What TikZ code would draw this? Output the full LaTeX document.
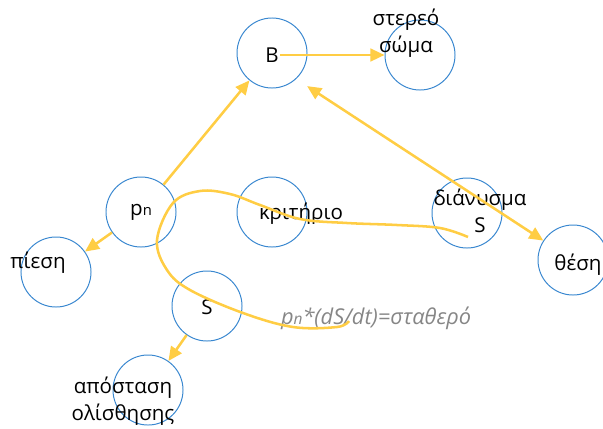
\documentclass[tikz,border=0pt]{standalone}
\usepackage{fontspec}
\setmainfont{Open Sans}
\usepackage{tikz}
\usetikzlibrary{arrows.meta}
\definecolor{ringblue}{RGB}{58,136,208}
\definecolor{linkgold}{RGB}{255,205,68}
\tikzstyle{Ring}=[circle, minimum size=1.75cm, inner sep=0pt, draw=ringblue, line width=0.7pt]
\tikzstyle{Word}=[align=center, inner sep=1pt, font=\fontsize{14.6}{18.8}\selectfont]
\tikzstyle{Link}=[draw=linkgold, line width=1.8pt, -{Triangle[length=10pt,width=9pt]}]

\begin{document}
\begin{tikzpicture}[x=0.025cm, y=-0.025cm]
    \useasboundingbox (0,0) rectangle (603,428);
    \path
    (272,53) node[Ring] (B) {}
    (420,55) node[Ring] (solid) {}
    (141,212) node[Ring] (pn) {}
    (272,212) node[Ring] (crit) {}
    (467,213) node[Ring] (vec) {}
    (573,260) node[Ring] (pos) {}
    (56,272) node[Ring] (press) {}
    (207,306) node[Ring] (S) {}
    (148,390) node[Ring] (slip) {};

    \path
    (272,55) node[Word] (Btxt) {B}
    (406,33) node[Word] (solidtxt) {στερεό\\σώμα}
    (141,212) node[Word] (pntxt) {p{\fontsize{10.5}{12}\selectfont n}}
    (301,214) node[Word] (crittxt) {κριτήριο}
    (480,211) node[Word] (vectxt) {διάνυσμα\\S}
    (578,265) node[Word] (postxt) {θέση}
    (38,263) node[Word] (presstxt) {πίεση}
    (207,307) node[Word] (Stxt) {S}
    (123,401) node[Word] (sliptxt) {απόσταση\\ολίσθησης}
    (376,318) node[Word, text=gray!95, font=\fontsize{15.5}{18}\selectfont\itshape] (law) {p{\fontsize{11}{12}\selectfont n}*(dS/dt)=σταθερό};

    \draw[Link] (Btxt.east) -- (solid);
    \draw[Link] (pn) -- (B);
    \draw[Link, {Triangle[length=10pt,width=9pt]}-{Triangle[length=10pt,width=9pt]}] ([shift={(10,8)}]B.south east) -- (pos);
    \draw[Link] (pn) -- (press);
    \draw[Link] (S) -- (slip);

    % the constant-product curve
    \coordinate (cstart) at (468,237);
    \coordinate (cend) at (349,321);
    \draw[linkgold, line width=1.8pt] plot[smooth, tension=0.6] coordinates {(cstart) (440,228) (397,225) (347,223) (300,219) (260,205) (230,194) (200,191) (173,203) (157,240) (167,270) (190,290) (243,313) (293,327) (337,327) (cend)};
\end{tikzpicture}
\end{document}
